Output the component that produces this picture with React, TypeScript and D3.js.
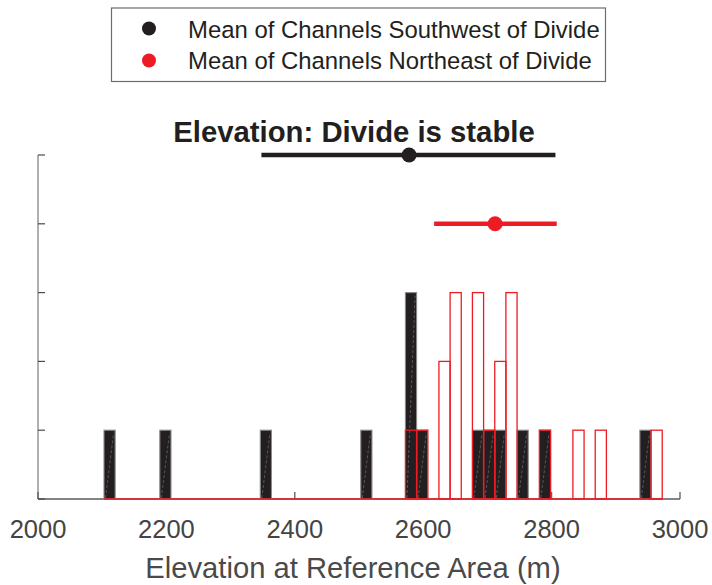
import React from "react";
import * as d3 from "d3";

// ---- data ----
const binStart = 2102.8; // m, left edge of first bin
const binWidth = 17.39; // m
const nBins = 50;
// [bin index, count] for non-empty bins
const southwestBins: [number, number][] = [
  [0, 1], [5, 1], [14, 1], [23, 1], [27, 3], [28, 1], [33, 1], [34, 1], [35, 1], [37, 1], [39, 1], [48, 1],
];
const northeastBins: [number, number][] = [
  [27, 1], [28, 1], [30, 2], [31, 3], [33, 3], [34, 1], [35, 2], [36, 3], [39, 1], [42, 1], [44, 1], [49, 1],
];
// mean markers: [low, mean, high, yLevel]
const southwestMean = { low: 2348, mean: 2578, high: 2806, level: 5 };
const northeastMean = { low: 2617, mean: 2712, high: 2808, level: 4 };
const xTicks = [2000, 2200, 2400, 2600, 2800, 3000];
const yTicks = [0, 1, 2, 3, 4, 5];
const legendLabels = ["Mean of Channels Southwest of Divide", "Mean of Channels Northeast of Divide"];
const titleText = "Elevation: Divide is stable";
const xLabel = "Elevation at Reference Area (m)";

const FONT = "'Liberation Sans', Arial, Helvetica, sans-serif";
const BLACK = "#231f20";
const RED = "#ed1c24";

export default function App() {
  const x = d3.scaleLinear().domain([2000, 3000]).range([38, 680]);
  const y = d3.scaleLinear().domain([0, 5]).range([499, 155]);
  const edge = (i: number) => x(binStart + i * binWidth);

  return (
    <svg
      width={712}
      height={585}
      style={{ position: "absolute", left: 0, top: 0, background: "#fff" }}
      fontFamily={FONT}
    >
      {/* axes */}
      <line x1={38} x2={38} y1={y(5)} y2={y(0)} stroke="#858585" strokeWidth={1.3} />
      <line x1={38} x2={680} y1={y(0)} y2={y(0)} stroke="#5a5a5a" strokeWidth={1.3} />
      {yTicks.map((t) => (
        <line key={"yt" + t} x1={38} x2={45} y1={y(t)} y2={y(t)} stroke="#4a4a4a" strokeWidth={1.2} />
      ))}
      {xTicks.map((t) => (
        <line key={"xt" + t} x1={x(t)} x2={x(t)} y1={y(0)} y2={y(0) - 7} stroke="#5a5a5a" strokeWidth={1.3} />
      ))}
      {xTicks.map((t) => (
        <text key={"xl" + t} x={x(t)} y={538} textAnchor="middle" fontSize={25.5} fill="#444">
          {t}
        </text>
      ))}
      <text x={353} y={578} textAnchor="middle" fontSize={29.2} fill="#4a4a4a">
        {xLabel}
      </text>

      {/* southwest histogram (filled) */}
      {southwestBins.map(([i, c]) => {
        const x0 = edge(i);
        const x1 = edge(i + 1);
        return (
          <g key={"sw" + i}>
            <rect x={x0} y={y(c)} width={x1 - x0} height={y(0) - y(c)} fill={BLACK} stroke="#8a8a8a" strokeWidth={1.1} />
            <line x1={x0 + 1.5} y1={y(0) - 1} x2={x1 - 1.5} y2={y(c) + 3} stroke="#7a7a7a" strokeWidth={0.6} strokeDasharray="3 2" />
          </g>
        );
      })}

      {/* northeast histogram (outline) */}
      <line x1={edge(0)} x2={edge(nBins)} y1={y(0)} y2={y(0)} stroke={RED} strokeWidth={1.6} />
      {northeastBins.map(([i, c]) => {
        const x0 = edge(i);
        const x1 = edge(i + 1);
        return (
          <rect key={"ne" + i} x={x0} y={y(c)} width={x1 - x0} height={y(0) - y(c)} fill="none" stroke={RED} strokeWidth={1.3} />
        );
      })}

      {/* mean markers */}
      {[
        { m: southwestMean, col: BLACK },
        { m: northeastMean, col: RED },
      ].map(({ m, col }, k) => (
        <g key={"mean" + k}>
          <line x1={x(m.low)} x2={x(m.high)} y1={y(m.level)} y2={y(m.level)} stroke={col} strokeWidth={4.5} />
          <circle cx={x(m.mean)} cy={y(m.level)} r={7.5} fill={col} />
        </g>
      ))}

      {/* title */}
      <text x={354} y={142} textAnchor="middle" fontSize={29.3} fontWeight="bold" fill={BLACK}>
        {titleText}
      </text>

      {/* legend */}
      <rect x={111.5} y={8} width={494} height={73.5} fill="#fff" stroke="#6d6d6d" strokeWidth={1.2} />
      {legendLabels.map((lab, k) => (
        <g key={"lg" + k}>
          <circle cx={149} cy={k === 0 ? 28.5 : 60.5} r={7} fill={k === 0 ? BLACK : RED} />
          <text x={188} y={k === 0 ? 37.5 : 69} fontSize={23.9} fill={BLACK}>
            {lab}
          </text>
        </g>
      ))}
    </svg>
  );
}
